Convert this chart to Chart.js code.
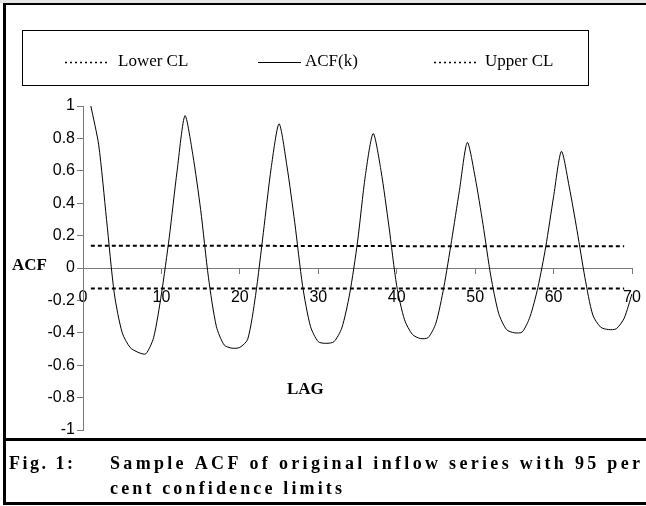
<!DOCTYPE html>
<html><head><meta charset="utf-8">
<script src="https://cdn.jsdelivr.net/npm/chart.js@4.4.0/dist/chart.umd.min.js"></script>
<style>html,body{margin:0;padding:0;background:#fff;}#wrap{width:646px;height:506px;position:relative;}canvas{display:block;}</style>
</head><body><div id="wrap"><canvas id="c" width="646" height="506"></canvas></div>
<script>
// ---- data ----
const lag = [1,2,3,4,5,6,7,8,9,10,11,12,13,14,15,16,17,18,19,20,21,22,23,24,25,26,27,28,29,30,31,32,33,34,35,36,37,38,39,40,41,42,43,44,45,46,47,48,49,50,51,52,53,54,55,56,57,58,59,60,61,62,63,64,65,66,67,68,69,70];
const acf = [1.00,0.76,0.30,-0.16,-0.40,-0.49,-0.52,-0.53,-0.43,-0.16,0.19,0.60,0.94,0.70,0.36,-0.06,-0.36,-0.475,-0.495,-0.49,-0.44,-0.17,0.22,0.62,0.89,0.63,0.28,-0.11,-0.36,-0.455,-0.465,-0.455,-0.37,-0.16,0.16,0.57,0.83,0.60,0.26,-0.11,-0.32,-0.41,-0.435,-0.43,-0.34,-0.12,0.17,0.48,0.775,0.56,0.27,-0.05,-0.28,-0.38,-0.40,-0.395,-0.30,-0.12,0.13,0.44,0.72,0.50,0.23,-0.06,-0.29,-0.365,-0.38,-0.375,-0.31,-0.16];
const clLag = [1,2,3,4,5,6,7,8,9,10,11,12,13,14,15,16,17,18,19,20,21,22,23,24,25,26,27,28,29,30,31,32,33,34,35,36,37,38,39,40,41,42,43,44,45,46,47,48,49,50,51,52,53,54,55,56,57,58,59,60,61,62,63,64,65,66,67,68,69];
const upperCL = [0.138,0.138,0.138,0.138,0.138,0.138,0.138,0.138,0.138,0.138,0.137,0.137,0.137,0.137,0.137,0.137,0.137,0.137,0.137,0.137,0.137,0.137,0.137,0.137,0.136,0.136,0.136,0.136,0.136,0.136,0.136,0.136,0.136,0.136,0.136,0.136,0.136,0.136,0.136,0.136,0.135,0.135,0.135,0.135,0.135,0.135,0.135,0.135,0.135,0.135,0.135,0.135,0.135,0.135,0.135,0.135,0.135,0.135,0.135,0.135,0.135,0.135,0.135,0.135,0.135,0.135,0.135,0.135,0.135];
const lowerCL = [-0.126,-0.126,-0.126,-0.126,-0.126,-0.126,-0.126,-0.126,-0.126,-0.126,-0.126,-0.126,-0.126,-0.126,-0.126,-0.126,-0.126,-0.126,-0.126,-0.126,-0.126,-0.126,-0.126,-0.126,-0.126,-0.126,-0.126,-0.126,-0.126,-0.126,-0.126,-0.126,-0.126,-0.126,-0.126,-0.126,-0.126,-0.126,-0.126,-0.126,-0.126,-0.126,-0.126,-0.126,-0.126,-0.126,-0.126,-0.126,-0.126,-0.126,-0.126,-0.126,-0.126,-0.126,-0.126,-0.126,-0.126,-0.126,-0.126,-0.126,-0.126,-0.126,-0.126,-0.126,-0.126,-0.126,-0.126,-0.126,-0.126];
const seriesNames = ['Lower CL','ACF(k)','Upper CL'];
const xTickValues = [0,10,20,30,40,50,60,70];
const yTickValues = [-1,-0.8,-0.6,-0.4,-0.2,0,0.2,0.4,0.6,0.8,1];
const yAxisTitle = 'ACF';
const xAxisTitle = 'LAG';
const captionLabel = 'Fig. 1:';
const captionLines = ['Sample ACF of original inflow series with 95 per','cent confidence limits'];

const pts = (xs, ys) => xs.map((x, i) => ({x: x, y: ys[i]}));

const decor = {
  id: 'decor',
  beforeDraw(chart) {
    const ctx = chart.ctx;
    ctx.save();
    ctx.fillStyle = '#fff';
    ctx.fillRect(0, 0, chart.width, chart.height);
    ctx.fillStyle = '#e6e6e6';
    ctx.fillRect(0, 0, chart.width, 3);
    ctx.restore();
  },
  afterDraw(chart) {
    const ctx = chart.ctx;
    ctx.save();
    // frame
    ctx.fillStyle = '#000';
    ctx.fillRect(3, 3, 646, 2);
    ctx.fillRect(3, 3, 3, 502);
    ctx.fillRect(3, 438, 646, 3);
    ctx.fillRect(3, 502, 646, 3);
    // legend box
    ctx.strokeStyle = '#000';
    ctx.lineWidth = 1;
    ctx.strokeRect(22.5, 30.5, 566, 55);
    const items = [
      {ds: 0, x1: 65, x2: 108, tx: 118},
      {ds: 1, x1: 258, x2: 301, tx: 305},
      {ds: 2, x1: 434, x2: 477, tx: 485}
    ];
    ctx.font = '17px "Liberation Serif", "Times New Roman", serif';
    ctx.textBaseline = 'middle';
    ctx.fillStyle = '#000';
    items.forEach(it => {
      const ds = chart.data.datasets[it.ds];
      ctx.beginPath();
      ctx.lineWidth = ds.borderDash && ds.borderDash.length ? 1.5 : 1;
      ctx.setLineDash(ds.borderDash && ds.borderDash.length ? [2, 3] : []);
      ctx.moveTo(it.x1, 62.5);
      ctx.lineTo(it.x2, 62.5);
      ctx.stroke();
      ctx.setLineDash([]);
      ctx.fillText(ds.label, it.tx, 62);
    });
    // axis titles
    ctx.font = 'bold 17px "Liberation Serif", "Times New Roman", serif';
    ctx.textAlign = 'left';
    ctx.fillText(yAxisTitle, 12, 266);
    ctx.fillText(xAxisTitle, 287, 390);
    // caption
    ctx.font = 'bold 18px "Liberation Serif", "Times New Roman", serif';
    ctx.textBaseline = 'alphabetic';
    const drawSpaced = (text, x, y, targetW) => {
      const chars = Array.from(text);
      const base = chars.reduce((s, c) => s + ctx.measureText(c).width, 0);
      const sp = (targetW - base) / (chars.length - 1);
      let cx = x;
      chars.forEach(c => { ctx.fillText(c, cx, y); cx += ctx.measureText(c).width + sp; });
    };
    drawSpaced(captionLabel, 9, 469, 64);
    drawSpaced(captionLines[0], 110, 469, 530);
    drawSpaced(captionLines[1], 110, 494, 232);
    ctx.restore();
  }
};

new Chart(document.getElementById('c'), {
  type: 'line',
  data: {
    datasets: [
      {label: seriesNames[0], data: pts(clLag, lowerCL), borderColor: '#000', borderWidth: 2, borderDash: [4, 3], pointRadius: 0, fill: false, tension: 0},
      {label: seriesNames[1], data: pts(lag, acf), borderColor: '#000', borderWidth: 1, pointRadius: 0, fill: false, tension: 0.25},
      {label: seriesNames[2], data: pts(clLag, upperCL), borderColor: '#000', borderWidth: 2, borderDash: [4, 3], pointRadius: 0, fill: false, tension: 0}
    ]
  },
  options: {
    responsive: false,
    animation: false,
    events: [],
    layout: {padding: {left: 0, right: 14, top: 106, bottom: 76}},
    plugins: {legend: {display: false}, tooltip: {enabled: false}, title: {display: false}},
    scales: {
      x: {
        type: 'linear', min: 0, max: 70,
        position: {y: 0},
        afterBuildTicks: s => { s.ticks = xTickValues.map(v => ({value: v})); },
        afterFit: s => { s.paddingLeft = 0; s.paddingRight = 0; },
        ticks: {color: '#000', font: {family: '"Liberation Sans", Arial, sans-serif', size: 16}, padding: 15, maxRotation: 0, autoSkip: false},
        grid: {drawOnChartArea: false, drawTicks: true, tickLength: 5, color: '#7a7a7a'},
        border: {display: true, color: '#7a7a7a', width: 1}
      },
      y: {
        type: 'linear', min: -1, max: 1,
        position: 'left',
        afterFit: s => { s.width = 83; },
        afterBuildTicks: s => { s.ticks = yTickValues.map(v => ({value: v})); },
        ticks: {color: '#000', font: {family: '"Liberation Sans", Arial, sans-serif', size: 16}, padding: 2, callback: v => String(Number(v.toFixed(1)))},
        grid: {drawOnChartArea: false, drawTicks: true, tickLength: 6, color: '#7a7a7a'},
        border: {display: true, color: '#7a7a7a', width: 1}
      }
    }
  },
  plugins: [decor]
});
</script></body></html>
